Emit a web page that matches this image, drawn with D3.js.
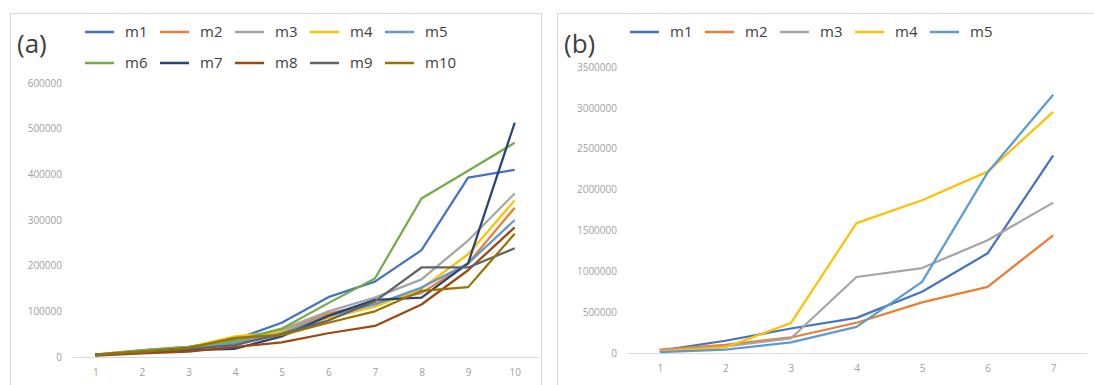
<!DOCTYPE html>
<html>
<head>
<meta charset="utf-8">
<script src="https://cdn.jsdelivr.net/npm/d3@7"></script>
<style>
  body { margin: 0; background: #fff; }
  text { font-family: "Open Sans", "Noto Sans", sans-serif; }
</style>
</head>
<body>
<div id="chart"></div>
<script>
// ---- data (a) ----
const catsA = [1, 2, 3, 4, 5, 6, 7, 8, 9, 10];
const namesA = ['m1', 'm2', 'm3', 'm4', 'm5', 'm6', 'm7', 'm8', 'm9', 'm10'];
const a_m1 = [5000, 15000, 22000, 38000, 75000, 131000, 165000, 234000, 393000, 410000];
const a_m2 = [4000, 12000, 18000, 32000, 58000, 95000, 118000, 140000, 205000, 327000];
const a_m3 = [4000, 13000, 20000, 35000, 60000, 100000, 130000, 170000, 255000, 358000];
const a_m4 = [5000, 14000, 21000, 45000, 55000, 85000, 110000, 150000, 225000, 343000];
const a_m5 = [4000, 12000, 18000, 30000, 52000, 90000, 115000, 152000, 205000, 300000];
const a_m6 = [5000, 14000, 22000, 36000, 62000, 118000, 172000, 347000, 408000, 469000];
const a_m7 = [5000, 10000, 15000, 18000, 45000, 90000, 125000, 130000, 205000, 513000];
const a_m8 = [3000, 8000, 12000, 22000, 32000, 52000, 68000, 115000, 190000, 284000];
const a_m9 = [4000, 11000, 17000, 26000, 50000, 80000, 122000, 196000, 196000, 238000];
const a_m10 = [5000, 12000, 20000, 42000, 48000, 75000, 100000, 145000, 153000, 270000];
const ticksA = [0, 100000, 200000, 300000, 400000, 500000, 600000];

// ---- data (b) ----
const catsB = [1, 2, 3, 4, 5, 6, 7];
const namesB = ['m1', 'm2', 'm3', 'm4', 'm5'];
const b_m1 = [30000, 150000, 300000, 430000, 750000, 1220000, 2420000];
const b_m2 = [40000, 100000, 190000, 370000, 620000, 810000, 1440000];
const b_m3 = [30000, 80000, 180000, 930000, 1040000, 1380000, 1840000];
const b_m4 = [20000, 70000, 367000, 1590000, 1870000, 2220000, 2950000];
const b_m5 = [10000, 40000, 130000, 320000, 870000, 2210000, 3160000];
const ticksB = [0, 500000, 1000000, 1500000, 2000000, 2500000, 3000000, 3500000];

const colors = ['#4472C4', '#ED7D31', '#A5A5A5', '#FFC000', '#5B9BD5',
  '#70AD47', '#264478', '#9E480E', '#636363', '#997300'];

const svg = d3.select('#chart')
  .append('svg')
  .attr('width', 1094)
  .attr('height', 385);

function drawPanel(p) {
  const g = svg.append('g');

  // frame
  g.append('rect')
    .attr('x', p.box[0] + 0.5).attr('y', p.box[1] + 0.5)
    .attr('width', p.box[2]).attr('height', p.box[3])
    .attr('fill', '#fff')
    .attr('stroke', '#d9d9d9');

  const x = d3.scalePoint()
    .domain(p.cats)
    .range(p.xRange)
    .padding(0.5);

  const y = d3.scaleLinear()
    .domain([0, p.ticks[p.ticks.length - 1]])
    .range(p.yRange);

  // y axis labels (no line)
  const yAxis = g.append('g')
    .attr('transform', 'translate(' + p.yLabelX + ',0)')
    .call(d3.axisLeft(y).tickValues(p.ticks).tickSize(0).tickPadding(0).tickFormat(d3.format('d')));
  yAxis.select('.domain').remove();
  yAxis.selectAll('text')
    .attr('fill', '#a0a0a0')
    .style('font-size', '10px');

  // x axis
  const xAxis = g.append('g')
    .attr('transform', 'translate(0,' + p.yRange[0] + ')')
    .call(d3.axisBottom(x).tickSize(0).tickPadding(12));
  xAxis.select('.domain')
    .attr('stroke', '#d9d9d9')
    .attr('stroke-width', 1.2);
  xAxis.selectAll('text')
    .attr('fill', '#a0a0a0')
    .style('font-size', '10px');

  const line = d3.line()
    .x((d, i) => x(p.cats[i]))
    .y(d => y(d));

  p.series.forEach((s, i) => {
    g.append('path')
      .datum(s)
      .attr('fill', 'none')
      .attr('stroke', colors[i])
      .attr('stroke-width', 2.25)
      .attr('stroke-linejoin', 'round')
      .attr('d', line);
  });

  // panel label
  g.append('text')
    .attr('x', p.labelX)
    .attr('y', 53)
    .attr('fill', '#404040')
    .style('font-size', '26px')
    .text(p.label);

  // legend
  p.names.forEach((n, i) => {
    const col = i % 5;
    const row = Math.floor(i / 5);
    const lx = p.legendX + col * 75;
    const ly = 32 + row * 31;
    g.append('line')
      .attr('x1', lx).attr('x2', lx + 29)
      .attr('y1', ly).attr('y2', ly)
      .attr('stroke', colors[i])
      .attr('stroke-width', 2.5);
    g.append('text')
      .attr('x', lx + 40)
      .attr('y', ly + 5)
      .attr('fill', '#404040')
      .style('font-size', '15px')
      .text(n);
  });
}

drawPanel({
  box: [10, 13, 531, 380],
  cats: catsA,
  names: namesA,
  series: [a_m1, a_m2, a_m3, a_m4, a_m5, a_m6, a_m7, a_m8, a_m9, a_m10],
  ticks: ticksA,
  xRange: [72, 538],
  yRange: [357, 83],
  yLabelX: 62,
  label: '(a)',
  labelX: 17,
  legendX: 85
});

drawPanel({
  box: [557, 13, 545, 380],
  cats: catsB,
  names: namesB,
  series: [b_m1, b_m2, b_m3, b_m4, b_m5],
  ticks: ticksB,
  xRange: [627, 1086],
  yRange: [353, 67],
  yLabelX: 617,
  label: '(b)',
  labelX: 564,
  legendX: 630
});
</script>
</body>
</html>
